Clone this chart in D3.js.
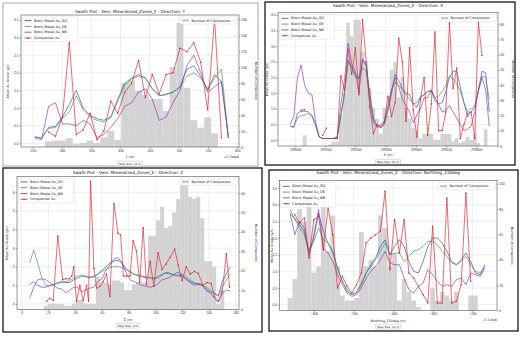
<!DOCTYPE html>
<html>
<head>
<meta charset="utf-8">
<script src="https://cdn.jsdelivr.net/npm/d3@7"></script>
<style>
  body { margin: 0; background: #fff; }
  svg { font-family: "DejaVu Sans", sans-serif; display: block; }
</style>
</head>
<body>
<div id="chart"></div>
<script>
// ---------- data ----------
const seriesNames = ["Block Model Au_ID2", "Block Model Au_OK", "Block Model Au_NN", "Composites Au"];
const histName = "Number of Composites";

// panel 1 : direction Y, swaths every 12 m
const p1Start = 253, p1Step = 11.85;
const p1Hist = [0, 0, 7, 8, 8, 11, 4, 5, 8, 5, 12, 20, 9, 80, 83, 70, 65, 60, 60, 45, 100, 155, 74, 34, 24, 37, 17, 0, 0];
const p1ID2 = [0.18, 0.15, 0.45, 0.48, 0.75, 1.1, 1.5, 1.0, 0.8, 0.7, 0.65, 0.75, 1.25, 1.7, 1.85, 1.95, 1.85, 1.55, 1.35, 1.38, 1.45, 1.6, 2.1, 2.2, 1.9, 1.5, 1.95, 1.75, 0.15];
const p1OK = [0.18, 0.15, 0.42, 0.45, 0.7, 0.9, 1.35, 0.95, 0.75, 0.65, 0.6, 0.72, 1.2, 1.65, 1.82, 1.9, 1.85, 1.55, 1.35, 1.4, 1.45, 1.6, 1.9, 2.0, 1.85, 1.55, 1.85, 2.1, 0.2];
const p1NN = [0.15, 0.1, 1.05, 1.15, 0.55, 0.55, 0.5, 0.65, 0.55, 0.15, 0.25, 0.45, 0.7, 1.05, 1.15, 1.45, 1.55, 1.25, 0.65, 0.75, 1.15, 1.5, 2.2, 2.5, 2.0, 1.45, 1.6, 1.75, 0.15];
const p1Comp = [null, null, 0.32, 0.2, 0.75, 2.85, 0.25, 0.38, 0.85, 0.1, 0.35, 1.2, 0.85, 1.45, 1.7, 2.35, 1.3, 1.95, 1.4, 1.95, 2.0, 2.7, 2.6, 2.85, 2.3, 0.95, 3.55, 0.15, null];

// panel 2 : direction X, swaths every 12 m
const p2Start = 298983, p2Step = 12;
const p2Hist = [0, 0, 0, 0, 7, 0, 0, 0, 0, 0, 0, 1, 3, 3, 20, 35, 81, 72, 83, 83, 62, 55, 38, 25, 18, 8, 25, 20, 50, 55, 32, 45, 25, 18, 12, 10, 5, 8, 8, 8, 4, 4, 8, 8, 8, 3, 5, 2, 3, 6, 4, 8, 2, 0, 11, 0];
const p2ID2 = [0.45, 0.4, 0.85, 0.92, 0.92, 0.9, 0.8, 0.5, 0.1, 0.05, 0.05, 0.05, 0.05, 0.1, 0.8, 1.5, 2.55, 2.35, 2.1, 1.95, 2.55, 2.4, 1.5, 0.7, 0.45, 0.4, 0.5, 0.9, 1.5, 2.1, 1.9, 1.65, 1.5, 1.45, 1.15, 1.05, 1.35, 1.45, 1.55, 1.6, 1.35, 1.15, 1.2, 1.55, 2.0, 2.2, 2.2, 1.7, 1.2, 0.75, 0.9, 1.05, 1.6, 2.2, 2.15, 0.9];
const p2OK = [0.45, 0.42, 0.7, 0.78, 0.8, 0.85, 0.75, 0.45, 0.1, 0.05, 0.05, 0.05, 0.05, 0.1, 0.75, 1.45, 2.5, 2.3, 2.0, 2.0, 2.3, 2.2, 1.4, 0.65, 0.45, 0.45, 0.55, 1.0, 1.6, 1.85, 1.75, 1.6, 1.45, 1.3, 1.15, 1.2, 1.4, 1.45, 1.55, 1.55, 1.35, 1.4, 1.55, 1.75, 2.05, 1.95, 1.8, 1.55, 1.2, 0.9, 1.0, 1.1, 1.55, 2.05, 2.0, 1.3];
const p2NN = [0.5, 0.75, 2.0, 2.4, 1.75, 1.5, 1.45, 0.6, 0.1, 0.05, 0.05, 0.05, 0.05, 0.05, 1.15, 1.9, 3.1, 2.45, 2.2, 1.5, 2.6, 2.4, 1.2, 0.55, 0.4, 0.5, 0.6, 1.1, 1.6, 2.0, 1.7, 1.3, 1.1, 0.9, 0.55, 0.8, 1.0, 1.35, 1.35, 1.6, 1.25, 1.15, 0.9, 0.95, 1.1, 0.9, 0.7, 0.5, 0.3, 0.35, 0.45, 0.9, 1.6, 2.0, 1.6, 0.45];
const p2Comp = [null, null, null, 0.95, 0.97, null, null, null, null, 0.15, 0.38, null, 0.05, 0.05, 2.05, 1.6, 2.9, 2.1, 2.95, 1.45, 3.85, 2.5, 1.05, 0.2, 0.5, 0.4, 0.55, 1.4, 0.75, 1.2, 3.25, 2.5, 0.6, 2.95, 0.95, 0.1, 1.3, 2.0, 0.15, 1.15, 3.45, 0.3, 0.3, 0.9, 3.75, 1.65, 2.3, 0.05, 0.5, 0.85, 0.9, 0.05, 3.75, 2.7, null, null];

// panel 3 : direction Z, swaths every 3 m
const p3Start = 6, p3Step = 3;
const p3Hist = [0, 0, 0, 0, 2, 3, 3, 3, 3, 2, 2, 3, 5, 5, 3, 3, 3, 17, 14, 14, 13, 15, 15, 14, 10, 10, 13, 14, 14, 14, 38, 38, 46, 53, 42, 43, 50, 57, 64, 64, 58, 57, 58, 47, 25, 25, 22, 3, 10, 0, 0];
const p3ID2 = [1.05, 1.2, 1.0, 0.9, 0.9, 1.0, 1.05, 1.15, 1.2, 1.15, 1.15, 1.3, 1.4, 1.5, 1.45, 1.4, 1.45, 1.6, 1.8, 2.0, 2.2, 2.3, 2.35, 2.2, 1.9, 1.7, 1.6, 1.55, 1.5, 1.45, 1.4, 1.35, 1.4, 1.55, 1.7, 1.65, 1.55, 1.5, 1.5, 1.35, 1.2, 1.1, 1.1, 1.05, 0.8, 0.65, 0.55, 0.45, 1.2, 1.6, 2.0];
const p3OK = [2.2, 2.9, 2.2, 1.4, 1.0, 0.95, 1.05, 1.1, 1.15, 1.2, 1.25, 1.4, 1.5, 1.55, 1.5, 1.45, 1.5, 1.6, 1.75, 1.85, 1.95, 2.0, 2.0, 1.95, 1.85, 1.75, 1.6, 1.5, 1.45, 1.4, 1.4, 1.4, 1.5, 1.6, 1.65, 1.6, 1.55, 1.55, 1.6, 1.45, 1.3, 1.15, 1.05, 1.0, 0.9, 0.75, 0.6, 0.4, 0.9, 1.3, 1.6];
const p3NN = [0.3, 0.9, 1.3, 1.35, 1.3, 1.15, 1.0, 0.85, 0.8, 0.6, 0.75, 0.9, 0.9, 0.65, 0.75, 0.85, 0.9, 1.2, 1.35, 1.8, 2.1, 2.4, 2.5, 2.2, 1.7, 1.3, 1.2, 1.1, 1.0, 0.95, 0.9, 0.95, 1.1, 1.3, 1.35, 1.45, 1.6, 1.7, 1.55, 1.3, 1.15, 1.0, 1.05, 1.0, 0.7, 0.6, 0.3, 0.1, 0.55, 0.75, 0.7];
const p3CompZ = [18.7, 21, 23.6, 27, 30.6, 33, 35.6, 37.5, 39, 41, 43.5, 46, 48.5, 50, 51.5, 54, 56, 58.5, 61, 63.4, 66, 69, 72, 74, 76, 78.4, 81, 83.3, 85.8, 88.3, 90.8, 93.3, 96, 98.8, 102, 105, 108, 111, 114.4, 117, 119, 120, 123, 126, 129, 132, 135.6, 138.6, 141.8, 144, 147, 150, 153, 155.5];
const p3CompAu = [0.15, 0.3, 0.2, 3.65, 1.3, 1.35, 1.35, 1.5, 2.0, 0.15, 1.0, 0.2, 1.0, 0.15, 6.6, 1.9, 0.85, 0.95, 1.2, 1.6, 0.4, 5.4, 3.8, 3.7, 1.5, 1.5, 1.5, 3.4, 2.85, 1.15, 4.1, 1.05, 2.3, 0.95, 2.75, 1.85, 2.15, 2.5, 2.95, 2.1, 1.5, 1.25, 2.0, 1.6, 1.75, 1.65, 1.0, 1.15, 1.1, 0.4, 0.15, 0.65, 2.7, 0.9];

// panel 4 : direction Northing_130deg, swaths every 12 m
const p4Start = -660.5, p4Step = 12;
const p4Hist = [10, 25, 80, 70, 90, 30, 35, 100, 47, 75, 35, 12, 8, 8, 10, 62, 35, 40, 35, 75, 65, 35, 45, 8, 25, 15, 8, 3, 0, 0, 18, 8, 15, 12, 8, 15, 0, 0, 12, 12, 0, 0];
const p4ID2 = [2.85, 2.55, 2.4, 2.2, 1.6, 2.0, 2.75, 2.2, 1.85, 1.6, 1.1, 0.7, 0.45, 0.3, 0.35, 0.6, 0.95, 1.2, 1.4, 1.75, 1.95, 1.5, 1.75, 1.95, 1.75, 1.3, 1.0, 0.95, 1.3, 1.75, 2.0, 2.0, 1.85, 1.6, 1.3, 1.2, 1.35, 1.55, 1.3, 0.95, 0.9, 1.2];
const p4OK = [2.7, 2.6, 2.3, 2.1, 1.6, 1.9, 2.3, 1.95, 1.85, 1.55, 1.1, 0.7, 0.4, 0.3, 0.4, 0.65, 0.95, 1.15, 1.35, 1.6, 1.85, 1.5, 1.55, 1.55, 1.3, 1.45, 1.6, 1.65, 1.75, 1.9, 1.9, 1.8, 1.6, 1.45, 1.25, 1.2, 1.3, 1.45, 1.2, 1.0, 0.95, 1.15];
const p4NN = [2.75, 2.1, 2.5, 2.3, 1.45, 2.1, 2.85, 1.7, 1.55, 1.3, 0.9, 0.6, 0.35, 0.25, 0.3, 0.5, 0.8, 1.0, 1.15, 1.35, 1.6, 1.25, 1.2, 1.2, 0.8, 0.45, 0.35, 0.55, 0.65, 1.05, 0.9, 0.7, 0.55, 0.6, 0.55, 0.75, 0.8, 0.6, 0.95, 0.9, 0.85, 1.1];
const p4Comp = [null, 2.7, 2.45, 2.6, 1.4, 2.55, 2.65, 1.65, 2.9, 2.1, 0.5, 0.85, 0.55, 0.35, 0.6, 0.95, 1.85, 2.0, 2.1, 2.2, 3.4, 1.05, 2.55, 1.55, 2.55, 0.95, 0.8, 0.55, 0.3, 0.05, 2.35, 0.05, 0.05, 3.2, 0.05, 0.1, 0.6, 3.35, 0.7, null, null, null];

// ---------- layout ----------
const width = 524, height = 337;
const colors = { id2: "#2f3fd0", ok: "#3a9a3a", nn: "#8a2fb0", comp: "#e3262e", hist: "#cbcbcb" };

const gridX = (start, step, n) => d3.range(n).map(i => start + step * i);

const panels = [
  {
    frame: [3, 3, 258, 166], frameColor: "#a0a0a0", frameW: 0.9,
    plot: { l: 21, t: 15, r: 239, b: 147 },
    title: "Swath Plot - Vein: Mineralized_Zones_E - Direction: Y", titleY: 13,
    xDomain: [229.4, 603], xTicks: d3.range(250, 601, 50), xFmt: d3.format("d"),
    yDomain: [-0.105, 3.64], yTicks: d3.range(0, 3.51, 0.5), yFmt: d3.format(".1f"),
    y2Domain: [0, 165], y2Ticks: d3.range(0, 161, 20),
    xLabel: "Y (m)", xLabelY: 158.3, stepText: "Step Size: 12 m", stepY: 163.6,
    offset: "+5.399e6", offsetY: 158, yLabelX: 8.5, y2LabelX: 255,
    xs: gridX(p1Start, p1Step, p1Hist.length), step: p1Step,
    hist: p1Hist, id2: p1ID2, ok: p1OK, nn: p1NN,
    compX: gridX(p1Start, p1Step, p1Comp.length), comp: p1Comp
  },
  {
    frame: [265, 2, 515, 165], frameColor: "#1a1a1a", frameW: 1.3,
    plot: { l: 278, t: 12.7, r: 498, b: 146 },
    title: "Swath Plot - Vein: Mineralized_Zones_E - Direction: X", titleY: 7.4,
    xDomain: [298942.6, 299672], xTicks: d3.range(299000, 299601, 100), xFmt: d3.format("d"),
    yDomain: [-0.19, 4.07], yTicks: d3.range(0, 4.01, 0.5), yFmt: d3.format(".1f"),
    y2Domain: [0, 87.6], y2Ticks: d3.range(0, 81, 10),
    xLabel: "X (m)", xLabelY: 156.4, stepText: "Step Size: 12 m", stepY: 161.6,
    offset: null, yLabelX: 267.5, y2LabelX: 511.5,
    xs: gridX(p2Start, p2Step, p2Hist.length), step: p2Step,
    hist: p2Hist, id2: p2ID2, ok: p2OK, nn: p2NN,
    compX: gridX(p2Start, p2Step, p2Comp.length), comp: p2Comp
  },
  {
    frame: [3, 168, 262, 332], frameColor: "#1a1a1a", frameW: 1.3,
    plot: { l: 17, t: 176.3, r: 239, b: 309.7 },
    title: "Swath Plot - Vein: Mineralized_Zones_E - Direction: Z", titleY: 173.8,
    xDomain: [-3.5, 162.5], xTicks: d3.range(0, 161, 20), xFmt: d3.format("d"),
    yDomain: [-0.31, 6.86], yTicks: d3.range(0, 7, 1), yFmt: d3.format("d"),
    y2Domain: [0, 68.6], y2Ticks: d3.range(0, 61, 10),
    xLabel: "Z (m)", xLabelY: 320.8, stepText: "Step Size: 3 m", stepY: 325.6,
    offset: null, yLabelX: 7.5, y2LabelX: 255,
    xs: gridX(p3Start, p3Step, p3Hist.length), step: p3Step,
    hist: p3Hist, id2: p3ID2, ok: p3OK, nn: p3NN,
    compX: p3CompZ, comp: p3CompAu
  },
  {
    frame: [269, 170, 518, 331], frameColor: "#1a1a1a", frameW: 1.3,
    plot: { l: 279.3, t: 180.7, r: 497, b: 310.7 },
    title: "Swath Plot - Vein: Mineralized_Zones_E - Direction: Northing_130deg", titleY: 173.8,
    xDomain: [-687.6, -138], xTicks: d3.range(-600, -199, 100), xFmt: d3.format("d"),
    yDomain: [-0.18, 3.72], yTicks: d3.range(0, 3.51, 0.5), yFmt: d3.format(".1f"),
    y2Domain: [0, 102.4], y2Ticks: d3.range(0, 101, 20),
    xLabel: "Northing_130deg (m)", xLabelY: 321.8, stepText: "Step Size: 12 m", stepY: 326.6,
    offset: "\u22125.329e6", offsetY: 320.5, yLabelX: 272.5, y2LabelX: 511,
    xs: gridX(p4Start, p4Step, p4Hist.length), step: p4Step,
    hist: p4Hist, id2: p4ID2, ok: p4OK, nn: p4NN,
    compX: gridX(p4Start, p4Step, p4Comp.length), comp: p4Comp
  }
];

const svg = d3.select("#chart").append("svg")
  .attr("width", width).attr("height", height);

svg.append("rect").attr("width", width).attr("height", height).attr("fill", "#fff");

function styleAxis(g) {
  g.select(".domain").remove();
  g.selectAll(".tick line").attr("stroke", "#333").attr("stroke-width", 0.4);
  g.selectAll(".tick text").attr("fill", "#333").style("font-size", "3.3px");
}

function drawPanel(p, k) {
  const { l, t, r, b } = p.plot;
  const g = svg.append("g");

  // outer frame of the screenshot
  g.append("rect")
    .attr("x", p.frame[0]).attr("y", p.frame[1])
    .attr("width", p.frame[2] - p.frame[0]).attr("height", p.frame[3] - p.frame[1])
    .attr("fill", "#fff").attr("stroke", p.frameColor).attr("stroke-width", p.frameW);

  const x = d3.scaleLinear().domain(p.xDomain).range([l, r]);
  const y = d3.scaleLinear().domain(p.yDomain).range([b, t]);
  const y2 = d3.scaleLinear().domain(p.y2Domain).range([b, t]);

  const clipId = "clip" + k;
  svg.append("clipPath").attr("id", clipId)
    .append("rect").attr("x", l).attr("y", t).attr("width", r - l).attr("height", b - t);

  // grid
  g.append("g").selectAll("line").data(p.xTicks).join("line")
    .attr("x1", d => x(d)).attr("x2", d => x(d)).attr("y1", t).attr("y2", b)
    .attr("stroke", "#dedede").attr("stroke-width", 0.5);
  g.append("g").selectAll("line").data(p.yTicks).join("line")
    .attr("x1", l).attr("x2", r).attr("y1", d => y(d)).attr("y2", d => y(d))
    .attr("stroke", "#dedede").attr("stroke-width", 0.5);

  const body = g.append("g").attr("clip-path", `url(#${clipId})`);

  // histogram (number of composites per swath)
  body.append("g").selectAll("rect").data(p.hist.map((v, i) => ({ x: p.xs[i], v })).filter(d => d.v > 0))
    .join("rect")
    .attr("x", d => x(d.x - p.step / 2))
    .attr("width", d => x(d.x + p.step / 2) - x(d.x - p.step / 2))
    .attr("y", d => y2(d.v))
    .attr("height", d => y2(0) - y2(d.v))
    .attr("fill", colors.hist).attr("opacity", 0.85);

  const line = d3.line().defined(d => d.v != null).x(d => x(d.x)).y(d => y(d.v));
  const series = [
    { vals: p.id2, xs: p.xs, c: colors.id2 },
    { vals: p.ok, xs: p.xs, c: colors.ok },
    { vals: p.nn, xs: p.xs, c: colors.nn }
  ];
  series.forEach(s => {
    body.append("path")
      .datum(s.vals.map((v, i) => ({ x: s.xs[i], v })))
      .attr("d", line).attr("fill", "none")
      .attr("stroke", s.c).attr("stroke-width", 0.75).attr("opacity", 0.85);
  });

  const compData = p.comp.map((v, i) => ({ x: p.compX[i], v }));
  body.append("path").datum(compData)
    .attr("d", line).attr("fill", "none")
    .attr("stroke", colors.comp).attr("stroke-width", 0.75).attr("opacity", 0.9);
  body.append("g").selectAll("circle").data(compData.filter(d => d.v != null)).join("circle")
    .attr("cx", d => x(d.x)).attr("cy", d => y(d.v)).attr("r", 0.75)
    .attr("fill", colors.comp);

  // axes
  g.append("g").attr("transform", `translate(0,${b})`)
    .call(d3.axisBottom(x).tickValues(p.xTicks).tickFormat(p.xFmt).tickSize(1.5).tickPadding(0.8))
    .call(styleAxis);
  g.append("g").attr("transform", `translate(${l},0)`)
    .call(d3.axisLeft(y).tickValues(p.yTicks).tickFormat(p.yFmt).tickSize(1.5).tickPadding(0.8))
    .call(styleAxis);
  g.append("g").attr("transform", `translate(${r},0)`)
    .call(d3.axisRight(y2).tickValues(p.y2Ticks).tickFormat(d3.format("d")).tickSize(1.5).tickPadding(0.8))
    .call(styleAxis);

  g.append("rect").attr("x", l).attr("y", t).attr("width", r - l).attr("height", b - t)
    .attr("fill", "none").attr("stroke", "#333").attr("stroke-width", 0.5);

  // texts
  const cx = (l + r) / 2;
  g.append("text").attr("x", cx).attr("y", p.titleY).attr("text-anchor", "middle")
    .style("font-size", "4.2px").attr("fill", "#111").text(p.title);
  g.append("text").attr("x", cx).attr("y", p.xLabelY).attr("text-anchor", "middle")
    .style("font-size", "3.3px").attr("fill", "#222").text(p.xLabel);
  g.append("text")
    .attr("transform", `translate(${p.yLabelX},${(t + b) / 2}) rotate(-90)`)
    .attr("text-anchor", "middle").style("font-size", "3.3px").attr("fill", "#222")
    .text("Mean Au Grade (g/t)");
  g.append("text")
    .attr("transform", `translate(${p.y2LabelX},${(t + b) / 2}) rotate(90)`)
    .attr("text-anchor", "middle").style("font-size", "3.3px").attr("fill", "#222")
    .text(histName);
  if (p.offset) {
    g.append("text").attr("x", r).attr("y", p.offsetY).attr("text-anchor", "end")
      .style("font-size", "3.1px").attr("fill", "#333").text(p.offset);
  }

  // step size box
  const stepG = g.append("g");
  const stepT = stepG.append("text").attr("x", cx).attr("y", p.stepY + 1)
    .attr("text-anchor", "middle").style("font-size", "2.8px").attr("fill", "#222")
    .text(p.stepText);
  const sw = stepT.node().getComputedTextLength() + 3;
  stepG.insert("rect", "text").attr("x", cx - sw / 2).attr("y", p.stepY - 2.4)
    .attr("width", sw).attr("height", 4.8).attr("rx", 0.6)
    .attr("fill", "#fff").attr("stroke", "#999").attr("stroke-width", 0.35);

  // legend of lines (upper left)
  const lg = g.append("g").attr("transform", `translate(${l + 1.5},${t + 2})`);
  lg.append("rect").attr("width", 55).attr("height", 24.5).attr("rx", 0.8)
    .attr("fill", "#fff").attr("fill-opacity", 0.85).attr("stroke", "#cfcfcf").attr("stroke-width", 0.35);
  const legCols = [colors.id2, colors.ok, colors.nn, colors.comp];
  seriesNames.forEach((name, i) => {
    const yy = 3.6 + i * 5.8;
    lg.append("line").attr("x1", 2).attr("x2", 9).attr("y1", yy).attr("y2", yy)
      .attr("stroke", legCols[i]).attr("stroke-width", 0.8);
    if (i === 3) {
      lg.append("circle").attr("cx", 5.5).attr("cy", yy).attr("r", 0.8).attr("fill", legCols[i]);
    }
    lg.append("text").attr("x", 11.5).attr("y", yy + 1.2)
      .style("font-size", "3.4px").attr("fill", "#222").text(name);
  });

  // legend of histogram (upper right)
  const rg = g.append("g").attr("transform", `translate(${r - 59},${t + 2})`);
  rg.append("rect").attr("width", 57.5).attr("height", 7).attr("rx", 0.8)
    .attr("fill", "#fff").attr("fill-opacity", 0.85).attr("stroke", "#cfcfcf").attr("stroke-width", 0.35);
  rg.append("rect").attr("x", 2).attr("y", 2.2).attr("width", 7).attr("height", 2.6)
    .attr("fill", colors.hist);
  rg.append("text").attr("x", 11.5).attr("y", 4.8)
    .style("font-size", "3.4px").attr("fill", "#222").text(histName);
}

panels.forEach(drawPanel);
</script>
</body>
</html>
